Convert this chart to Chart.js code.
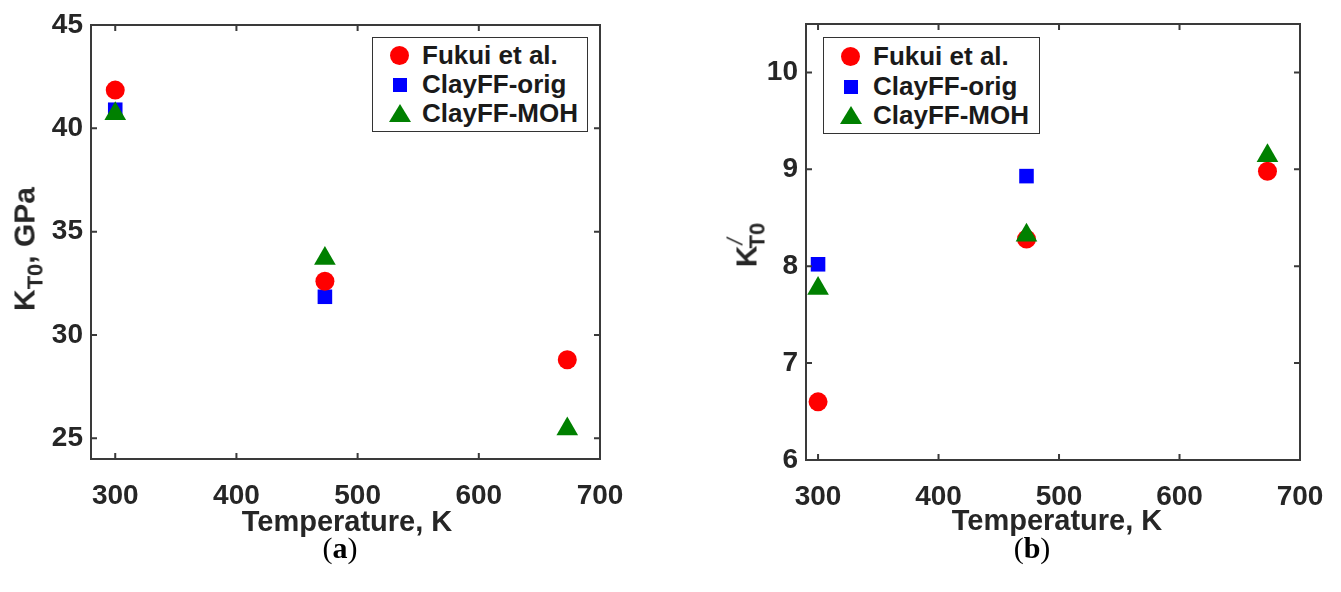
<!DOCTYPE html>
<html>
<head>
<meta charset="utf-8">
<script src="https://cdn.jsdelivr.net/npm/chart.js@4.4.1/dist/chart.umd.min.js"></script>
<style>
  html, body { margin: 0; padding: 0; background: #fff; }
  #wrap { position: relative; width: 1341px; height: 592px; background: #fff; overflow: hidden; font-family: "Liberation Sans", Arial, sans-serif; color: #262626; }
  canvas { position: absolute; top: 0; }
  .title { position: absolute; font-weight: bold; font-size: 29px; white-space: nowrap; line-height: 34px; }
  .ytitle { transform: translate(-50%, -50%) rotate(-90deg); font-size: 30px; }
  .ytitle sub { font-size: 22px; vertical-align: baseline; position: relative; top: 8px; }
  .legend { position: absolute; border: 1.5px solid #333; background: #fff; box-sizing: border-box; }
  .row { position: absolute; left: 0; height: 29px; line-height: 29px; font-weight: bold; font-size: 26px; color: #1a1a1a; white-space: nowrap; }
  .row .txt { position: absolute; left: 49px; top: 0; }
  .mk { position: absolute; }
  .circ { width: 19px; height: 19px; border-radius: 50%; background: #ff0000; left: 17px; top: 5px; }
  .sq { width: 14px; height: 14px; background: #0000ff; left: 20px; top: 8px; }
  .tri { width: 0; height: 0; border-left: 11px solid transparent; border-right: 11px solid transparent; border-bottom: 18px solid #008000; left: 16px; top: 5px; }
  .cap { position: absolute; font-family: "Liberation Serif", "Times New Roman", serif; font-size: 30px; color: #000; transform: translate(-50%, -50%); white-space: nowrap; }
</style>
</head>
<body>
<div id="wrap">
  <canvas id="ca" width="670" height="592" style="left:0"></canvas>
  <canvas id="cb" width="671" height="592" style="left:670px"></canvas>

  <div class="title" style="left:197px;top:504px;width:300px;text-align:center;">Temperature, K</div>
  <div class="title" style="left:907px;top:503px;width:300px;text-align:center;">Temperature, K</div>
  <div class="title ytitle" style="left:26px;top:249px;">K<sub>T0</sub>, GPa</div>
  <div class="title ytitle" style="left:748px;top:245px;">K<span style="font-size:22px;position:relative;top:-14px;left:1px;font-style:italic;font-weight:normal;">/</span><sub style="margin-left:-9px">T0</sub></div>

  <div class="legend" style="left:372px;top:37px;width:216px;height:95px;">
    <div class="row" style="top:3px;"><span class="mk circ"></span><span class="txt">Fukui et al.</span></div>
    <div class="row" style="top:32px;"><span class="mk sq"></span><span class="txt">ClayFF-orig</span></div>
    <div class="row" style="top:61px;"><span class="mk tri"></span><span class="txt">ClayFF-MOH</span></div>
  </div>
  <div class="legend" style="left:823px;top:37px;width:217px;height:97px;">
    <div class="row" style="top:4px;"><span class="mk circ"></span><span class="txt">Fukui et al.</span></div>
    <div class="row" style="top:34px;"><span class="mk sq"></span><span class="txt">ClayFF-orig</span></div>
    <div class="row" style="top:63px;"><span class="mk tri"></span><span class="txt">ClayFF-MOH</span></div>
  </div>

  <div class="cap" style="left:340px;top:548px;">(<b>a</b>)</div>
  <div class="cap" style="left:1032px;top:548px;">(<b>b</b>)</div>
</div>

<script>
// ---- data ----
const temperatures = [300, 473, 673];
const seriesNames = ["Fukui et al.", "ClayFF-orig", "ClayFF-MOH"];

// panel (a): K_T0, GPa
const aFukui = [41.85, 32.6, 28.8];
const aOrig  = [40.9, 31.85, null];
const aMOH   = [40.7, 33.7, 25.45];

// panel (b): K'_T0
const bFukui = [6.6, 8.28, 8.98];
const bOrig  = [8.02, 8.93, null];
const bMOH   = [7.77, 8.32, 9.14];

// ticks
const xTicks  = [300, 400, 500, 600, 700];
const aYTicks = [25, 30, 35, 40, 45];
const bYTicks = [6, 7, 8, 9, 10];

function pts(vals) {
  const out = [];
  temperatures.forEach((t, i) => { if (vals[i] !== null) out.push({ x: t, y: vals[i] }); });
  return out;
}

const frameTicks = {
  id: 'frameTicks',
  afterDraw(chart) {
    const { ctx, chartArea: a, scales } = chart;
    ctx.save();
    ctx.strokeStyle = '#3a3a3a';
    ctx.lineWidth = 2;
    ctx.strokeRect(a.left, a.top, a.right - a.left, a.bottom - a.top);
    const L = 6;
    ctx.beginPath();
    scales.x.ticks.forEach(t => {
      const px = scales.x.getPixelForValue(t.value);
      if (px <= a.left + 1 || px >= a.right - 1) return;
      ctx.moveTo(px, a.bottom); ctx.lineTo(px, a.bottom - L);
      ctx.moveTo(px, a.top); ctx.lineTo(px, a.top + L);
    });
    scales.y.ticks.forEach(t => {
      const py = scales.y.getPixelForValue(t.value);
      if (py <= a.top + 1 || py >= a.bottom - 1) return;
      ctx.moveTo(a.left, py); ctx.lineTo(a.left + L, py);
      ctx.moveTo(a.right, py); ctx.lineTo(a.right - L, py);
    });
    ctx.stroke();
    ctx.restore();
  }
};

function makeChart(id, f, o, m, yMin, yMax, yTicks, xMin, yWidth, xHeight, padRight, padTop) {
  const tickFont = { family: "'Liberation Sans', Arial, sans-serif", size: 28, weight: 'bold' };
  return new Chart(document.getElementById(id), {
    type: 'scatter',
    data: {
      datasets: [
        { label: seriesNames[0], data: pts(f), pointStyle: 'circle', pointRadius: 9.5, backgroundColor: '#ff0000', borderWidth: 0, order: 2 },
        { label: seriesNames[1], data: pts(o), pointStyle: 'rect', pointRadius: 10.3, backgroundColor: '#0000ff', borderWidth: 0, order: 3 },
        { label: seriesNames[2], data: pts(m), pointStyle: 'triangle', pointRadius: 12.5, backgroundColor: '#008000', borderWidth: 0, order: 1 }
      ]
    },
    options: {
      responsive: false,
      animation: false,
      events: [],
      layout: { padding: { left: 0, right: padRight, top: padTop, bottom: 0 } },
      plugins: { legend: { display: false }, tooltip: { enabled: false } },
      scales: {
        x: {
          type: 'linear', min: xMin, max: 700,
          grid: { display: false, drawTicks: false },
          border: { display: false },
          ticks: { font: tickFont, color: '#262626', padding: 20, maxRotation: 0, autoSkip: false },
          afterBuildTicks(s) { s.ticks = xTicks.map(v => ({ value: v })); },
          afterFit(s) { s.height = xHeight; s.paddingLeft = 0; s.paddingRight = 0; }
        },
        y: {
          type: 'linear', min: yMin, max: yMax,
          grid: { display: false, drawTicks: false },
          border: { display: false },
          ticks: { font: tickFont, color: '#262626', padding: 8, autoSkip: false },
          afterBuildTicks(s) { s.ticks = yTicks.map(v => ({ value: v })); },
          afterFit(s) { s.width = yWidth; s.paddingTop = 0; s.paddingBottom = 0; }
        }
      }
    },
    plugins: [frameTicks]
  });
}

makeChart('ca', aFukui, aOrig, aMOH, 24, 45, aYTicks, 280, 91, 133, 70, 25);
makeChart('cb', bFukui, bOrig, bMOH, 6, 10.5, bYTicks, 290, 136, 132, 41, 24);
</script>
</body>
</html>
